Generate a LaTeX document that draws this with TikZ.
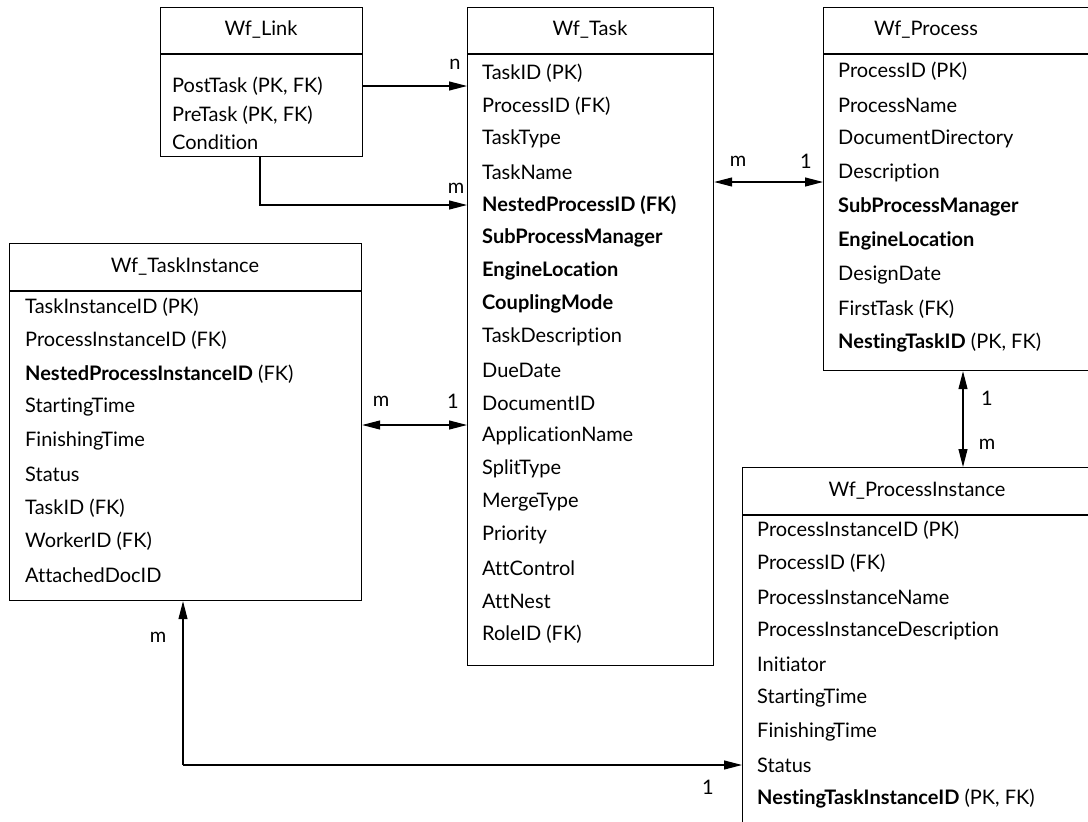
\documentclass[tikz,border=0pt]{standalone}
\usepackage{fontspec}
\setmainfont{Lato}[Ligatures=NoCommon]
\usetikzlibrary{arrows.meta}
\begin{document}
\begin{tikzpicture}[x=1pt,y=-1pt,
  every node/.style={font=\fontsize{20}{24}\selectfont, inner sep=0pt},
  tbox/.style={draw, line width=1.2pt, anchor=north west, inner sep=0pt},
  row/.style={anchor=west},
  ttl/.style={anchor=center},
  lbl/.style={anchor=center},
  conn/.style={line width=1.1pt, -{Triangle[length=18pt,width=9pt]}},
  conn2/.style={line width=1.1pt, {Triangle[length=18pt,width=9pt]}-{Triangle[length=18pt,width=9pt]}},
  hline/.style={line width=1.2pt}
]
\clip (0,0) rectangle (1088,822);
\fill[white] (0,0) rectangle (1088,822);

% Wf_Link
\node[tbox, minimum width=202pt, minimum height=149pt] (link) at (160,7) {};
\draw[hline] (160,54) -- (362,54);
\node[ttl] (linkT) at (261,30) {Wf\_Link};
\node[row] (l1) at (172,86) {PostTask (PK, FK)};
\node[row] (l2) at (172,115) {PreTask (PK, FK)};
\node[row] (l3) at (172,142) {Condition};

% Wf_Task
\node[tbox, minimum width=246pt, minimum height=658pt] (task) at (467,7) {};
\draw[hline] (467,54) -- (713,54);
\node[ttl] (taskT) at (590,30) {Wf\_Task};
\foreach \t [count=\i from 0] in {TaskID (PK),ProcessID (FK),TaskType,TaskName,\textbf{NestedProcessID (FK)},\textbf{SubProcessManager},\textbf{EngineLocation},\textbf{CouplingMode},TaskDescription,DueDate,DocumentID,ApplicationName,SplitType,MergeType,Priority,AttControl,AttNest,RoleID (FK)}
  \node[row] (t\i) at (482,73+33*\i) {\t};

% Wf_Process
\node[tbox, minimum width=300pt, minimum height=363pt] (proc) at (823,7) {};
\draw[hline] (823,54) -- (1120,54);
\node[ttl] (procT) at (926,30) {Wf\_Process};
\foreach \t [count=\i from 0] in {ProcessID (PK),ProcessName,DocumentDirectory,Description,\textbf{SubProcessManager},\textbf{EngineLocation},DesignDate,FirstTask (FK),{\textbf{NestingTaskID} (PK, FK)}}
  \node[row] (p\i) at (838,71+34*\i) {\t};

% Wf_TaskInstance
\node[tbox, minimum width=352pt, minimum height=357pt] (ti) at (9,243) {};
\draw[hline] (9,291) -- (361,291);
\node[ttl] (tiT) at (185,267) {Wf\_TaskInstance};
\foreach \t [count=\i from 0] in {TaskInstanceID (PK),ProcessInstanceID (FK),\textbf{NestedProcessInstanceID} (FK),StartingTime,FinishingTime,Status,TaskID (FK),WorkerID (FK),AttachedDocID}
  \node[row] (ti\i) at (25,307+33.5*\i) {\t};

% Wf_ProcessInstance
\node[tbox, minimum width=380pt, minimum height=380pt] (pi) at (742,467) {};
\draw[hline] (742,515) -- (1120,515);
\node[ttl] (piT) at (917,491) {Wf\_ProcessInstance};
\foreach \t [count=\i from 0] in {ProcessInstanceID (PK),ProcessID (FK),ProcessInstanceName,ProcessInstanceDescription,Initiator,StartingTime,FinishingTime,Status,{\textbf{NestingTaskInstanceID} (PK, FK)}}
  \node[row] (pi\i) at (757,530+33.6*\i) {\t};

% connectors
\coordinate (cTP) at (0,182);
\coordinate (cTI) at (0,425);
\coordinate (cPP) at (963,0);
\coordinate (cTIx) at (183,0);
\coordinate (cPIy) at (0,765);
\coordinate (cLk) at (260,0);

\draw[conn] (link.east |- l1) -- (task.west |- l1);
\draw[conn] (link.south -| cLk) |- (task.west |- t4);
\draw[conn2] (task.east |- cTP) -- (proc.west |- cTP);
\draw[conn2] (ti.east |- cTI) -- (task.west |- cTI);
\draw[conn2] (proc.south -| cPP) -- (pi.north -| cPP);
\draw[conn] (cPIy -| cTIx) -- (pi.west |- cPIy);
\draw[conn] (cPIy -| cTIx) -- (ti.south -| cTIx);

% labels
\node[lbl] (n1) at (455,64) {n};
\node[lbl] (n2) at (456,188) {m};
\node[lbl] (n3) at (738,161) {m};
\node[lbl] (n4) at (806,161) {1};
\node[lbl] (n5) at (381,401) {m};
\node[lbl] (n6) at (453,401) {1};
\node[lbl] (n7) at (987,398) {1};
\node[lbl] (n8) at (987,444) {m};
\node[lbl] (n9) at (158,637) {m};
\node[lbl] (n10) at (708,787) {1};
\end{tikzpicture}
\end{document}
